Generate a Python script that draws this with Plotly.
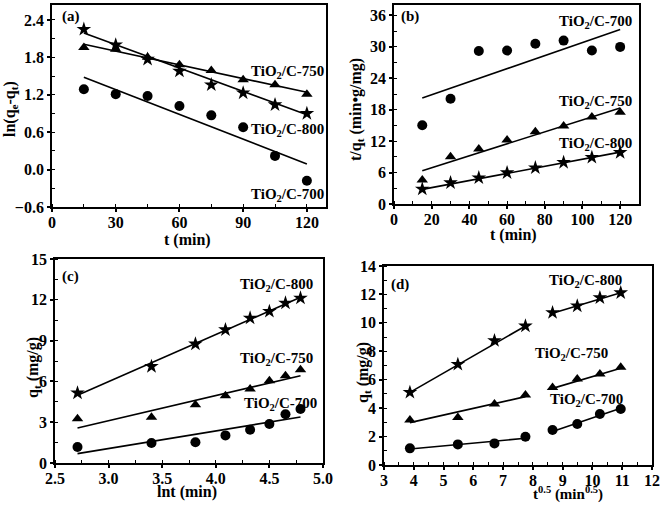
import plotly.graph_objects as go

W, H = 661, 510
FONT = "Liberation Serif"

# ---------------- data ----------------
t = [15, 30, 45, 60, 75, 90, 105, 120]
lnt = [2.71, 3.40, 3.81, 4.09, 4.32, 4.50, 4.65, 4.79]
sqrt_t = [3.87, 5.48, 6.71, 7.75, 8.66, 9.49, 10.25, 10.95]

# (a) pseudo-first-order ln(qe-qt)
a_700 = [1.29, 1.21, 1.18, 1.02, 0.87, 0.68, 0.22, -0.18]
a_750 = [1.96, 1.93, 1.80, 1.68, 1.59, 1.44, 1.36, 1.21]
a_800 = [2.25, 2.00, 1.77, 1.58, 1.36, 1.23, 1.04, 0.90]
a_fit_x = [15, 120]
a_fit_700 = [1.48, 0.09]
a_fit_750 = [2.01, 1.24]
a_fit_800 = [2.19, 0.88]

# (b) pseudo-second-order t/qt
b_700 = [15.05, 20.1, 29.2, 29.3, 30.6, 31.2, 29.3, 30.0]
b_750 = [4.6, 9.0, 10.5, 12.2, 13.8, 14.9, 16.6, 17.5]
b_800 = [2.86, 4.06, 5.0, 5.97, 6.92, 7.94, 8.9, 9.84]
b_fit_x = [15, 120]
b_fit_700 = [20.25, 33.3]
b_fit_750 = [6.35, 18.35]
b_fit_800 = [2.8, 9.9]

# (c) Elovich qt vs lnt
c_700 = [1.18, 1.47, 1.52, 2.03, 2.45, 2.87, 3.58, 3.97]
c_750 = [3.26, 3.36, 4.29, 4.95, 5.44, 6.05, 6.42, 6.86]
c_800 = [5.15, 7.1, 8.75, 9.8, 10.66, 11.15, 11.76, 12.13]
c_fit_x = [2.71, 4.79]
c_fit_700 = [0.69, 3.38]
c_fit_750 = [2.57, 6.42]
c_fit_800 = [4.98, 12.18]

# (d) intraparticle diffusion qt vs t^0.5 (two stages)
d_700 = [1.17, 1.45, 1.52, 1.99, 2.46, 2.88, 3.59, 3.94]
d_750 = [3.17, 3.35, 4.29, 4.92, 5.46, 6.05, 6.40, 6.87]
d_800 = [5.11, 7.08, 8.75, 9.78, 10.72, 11.19, 11.77, 12.12]
d_fit1_x = [3.87, 7.75]
d_fit2_x = [8.66, 10.95]
d_fit1_700 = [1.13, 1.88]
d_fit2_700 = [2.35, 3.99]
d_fit1_750 = [2.98, 4.81]
d_fit2_750 = [5.39, 6.80]
d_fit1_800 = [5.11, 9.78]
d_fit2_800 = [10.67, 12.12]

# ---------------- figure ----------------
fig = go.Figure()

def px_x(x):
    return x / W

def px_y(y):
    return 1 - y / H

def add_pts(ax, xs, ys, symbol, size):
    xa = "x" if ax == 1 else f"x{ax}"
    ya = "y" if ax == 1 else f"y{ax}"
    fig.add_trace(go.Scatter(x=xs, y=ys, mode="markers", xaxis=xa, yaxis=ya,
                             marker=dict(symbol=symbol, size=size, color="black",
                                         line=dict(width=0)),
                             showlegend=False, cliponaxis=False))

def add_line(ax, xs, ys):
    xa = "x" if ax == 1 else f"x{ax}"
    ya = "y" if ax == 1 else f"y{ax}"
    fig.add_trace(go.Scatter(x=xs, y=ys, mode="lines", xaxis=xa, yaxis=ya,
                             line=dict(color="black", width=1.6),
                             showlegend=False))

STAR, TRI, CIR = 11, 10, 10
# panel a
add_line(1, a_fit_x, a_fit_800); add_line(1, a_fit_x, a_fit_750); add_line(1, a_fit_x, a_fit_700)
add_pts(1, t, a_800, "star", STAR); add_pts(1, t, a_750, "triangle-up", TRI); add_pts(1, t, a_700, "circle", CIR)
# panel b
add_line(2, b_fit_x, b_fit_800); add_line(2, b_fit_x, b_fit_750); add_line(2, b_fit_x, b_fit_700)
add_pts(2, t, b_800, "star", STAR); add_pts(2, t, b_750, "triangle-up", TRI); add_pts(2, t, b_700, "circle", CIR)
# panel c
add_line(3, c_fit_x, c_fit_800); add_line(3, c_fit_x, c_fit_750); add_line(3, c_fit_x, c_fit_700)
add_pts(3, lnt, c_800, "star", STAR); add_pts(3, lnt, c_750, "triangle-up", TRI); add_pts(3, lnt, c_700, "circle", CIR)
# panel d
for f1, f2 in [(d_fit1_800, d_fit2_800), (d_fit1_750, d_fit2_750), (d_fit1_700, d_fit2_700)]:
    add_line(4, d_fit1_x, f1); add_line(4, d_fit2_x, f2)
add_pts(4, sqrt_t, d_800, "star", STAR); add_pts(4, sqrt_t, d_750, "triangle-up", TRI); add_pts(4, sqrt_t, d_700, "circle", CIR)

tickfont = dict(family=FONT, size=16, color="black", weight="bold")

def axis(domain, rng, dtick, anchor, minor_dtick, tick0=0, standoff=0):
    return dict(domain=domain, range=rng, dtick=dtick, tick0=tick0,
                anchor=anchor, showgrid=False, zeroline=False, automargin=False,
                showline=True, linecolor="black", linewidth=1.8, mirror=True,
                ticks="outside", ticklen=3, tickwidth=1.5, tickcolor="black",
                tickfont=tickfont, ticklabelstandoff=standoff,
                minor=dict(dtick=minor_dtick, ticks="inside", ticklen=3,
                           tickwidth=1.2, tickcolor="black", showgrid=False))

# pixel boxes in the reference picture: (left, right, top, bottom)
boxA = (52, 326, 5, 207)
boxB = (394, 639, 5, 204)
boxC = (55, 323, 259, 463)
boxD = (384, 652, 266, 465)

def dom(box):
    l, r, tp, b = box
    return [px_x(l), px_x(r)], [px_y(b), px_y(tp)]

xa, ya = dom(boxA)
xb, yb = dom(boxB)
xc, yc = dom(boxC)
xd, yd = dom(boxD)

XS = -3
lay = dict(
    xaxis=axis(xa, [0, 129], 30, "y", 15, standoff=XS),
    yaxis=axis(ya, [-0.6, 2.64], 0.6, "x", 0.3, -0.6),
    xaxis2=axis(xb, [0, 130], 20, "y2", 10, standoff=XS),
    yaxis2=axis(yb, [0, 38], 6, "x2", 3),
    xaxis3=axis(xc, [2.5, 5.0], 0.5, "y3", 0.25, 2.5, standoff=XS),
    yaxis3=axis(yc, [0, 15], 3, "x3", 1.5),
    xaxis4=axis(xd, [3, 12], 1, "y4", 0.5, standoff=XS),
    yaxis4=axis(yd, [0, 14], 2, "x4", 1),
)
lay["yaxis"]["tickformat"] = ".1f"
lay["xaxis3"]["tickformat"] = ".1f"

fig.update_layout(**lay)

def ann(text, x, y, xanchor="center", angle=0, size=15):
    fig.add_annotation(text="<b>" + text + "</b>", x=px_x(x), y=px_y(y),
                       xref="paper", yref="paper",
                       showarrow=False, xanchor=xanchor, yanchor="middle",
                       textangle=angle,
                       font=dict(family=FONT, size=size, color="black"))

T = "TiO<sub>2</sub>/C-"
# panel letters
ann("(a)", 71, 16, size=15)
ann("(b)", 410, 16, size=15)
ann("(c)", 70, 276, size=15)
ann("(d)", 400, 284, size=15)
# series labels
ann(T + "750", 326, 72, "right")
ann(T + "800", 326, 130, "right")
ann(T + "700", 326, 195, "right")
ann(T + "700", 634, 22, "right")
ann(T + "750", 634, 102, "right")
ann(T + "800", 634, 144, "right")
ann(T + "800", 315, 285, "right")
ann(T + "750", 315, 359, "right")
ann(T + "700", 319, 404, "right")
ann(T + "800", 624, 281, "right")
ann(T + "750", 610, 354, "right")
ann(T + "700", 625, 400, "right")
# axis titles
ann("t (min)", 187, 240, size=16)
ann("t (min)", 513, 235, size=16)
ann("lnt (min)", 187, 492, size=16)
ann("t<sup>0.5</sup> (min<sup>0.5</sup>)", 568, 493, size=15)
ann("ln(q<sub>e</sub>-q<sub>t</sub>)", 10, 109, angle=-90, size=16)
ann("t/q<sub>t</sub> (min\u2022g/mg)", 356, 110, angle=-90, size=16)
ann("q<sub>t</sub> (mg/g)", 33, 368, angle=-90, size=16)
ann("q<sub>t</sub> (mg/g)", 363, 373, angle=-90, size=16)

fig.update_layout(width=W, height=H, margin=dict(l=0, r=0, t=0, b=0, autoexpand=False),
                  paper_bgcolor="white", plot_bgcolor="white")

fig.write_html("out.html", config={"displayModeBar": False},
               post_script="document.body.style.margin='0';document.body.style.overflow='hidden';")
